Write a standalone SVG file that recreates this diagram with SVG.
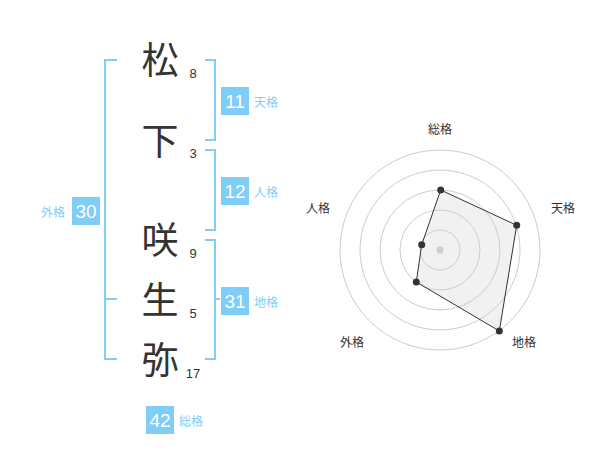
<svg xmlns="http://www.w3.org/2000/svg" width="600" height="470" viewBox="0 0 600 470">
<style>
.br{fill:none;stroke:#80cdf8;stroke-width:2}
.box{fill:#80cdf8}
.bn{font-family:"Liberation Sans",Arial,sans-serif;font-size:19px;fill:#fff;text-anchor:middle}
.lb{font-family:"Noto Sans CJK JP",sans-serif;font-size:12px;fill:#80cdf8}
.ch{font-family:"Noto Sans CJK JP",sans-serif;font-size:37px;fill:#333;text-anchor:middle}
.sn{font-family:"Liberation Sans",Arial,sans-serif;font-size:13px;fill:#333;text-anchor:middle}
.ring{fill:none;stroke:#ccc;stroke-width:1}
.rl{font-family:"Noto Sans CJK JP",sans-serif;font-size:12px;fill:#333;text-anchor:middle}
.pt{fill:#333}
</style>
<rect width="600" height="470" fill="#fff"/>
<g id="connectors">
<path class="br" d="M117,60 H105 V359 H117 M105,299 H117"/>
<path class="br" d="M205,60 H215 V140 H205"/>
<path class="br" d="M205,150 H215 V230 H205"/>
<path class="br" d="M205,240 H215 V359 H205 M215,299 H220"/>
</g>
<g id="chars">
<text class="ch" x="160" y="74">松</text>
<text class="sn" x="193" y="78">8</text>
<text class="ch" x="160" y="155">下</text>
<text class="sn" x="193" y="158">3</text>
<text class="ch" x="160" y="254">咲</text>
<text class="sn" x="193" y="258">9</text>
<text class="ch" x="160" y="314">生</text>
<text class="sn" x="193" y="318">5</text>
<text class="ch" x="160" y="374">弥</text>
<text class="sn" x="193" y="378">17</text>
</g>
<g id="tenkaku">
<rect class="box" x="221" y="87" width="28" height="28"/>
<text class="bn" x="235" y="108">11</text>
<text class="lb" x="254" y="107">天格</text>
</g>
<g id="jinkaku">
<rect class="box" x="221" y="177" width="28" height="28"/>
<text class="bn" x="235" y="198">12</text>
<text class="lb" x="254" y="197">人格</text>
</g>
<g id="gaikaku">
<rect class="box" x="72" y="197" width="28" height="28"/>
<text class="bn" x="86" y="218">30</text>
<text class="lb" x="41" y="217">外格</text>
</g>
<g id="chikaku">
<rect class="box" x="221" y="287" width="28" height="28"/>
<text class="bn" x="235" y="308">31</text>
<text class="lb" x="254" y="307">地格</text>
</g>
<g id="soukaku">
<rect class="box" x="146" y="406" width="28" height="28"/>
<text class="bn" x="160" y="427">42</text>
<text class="lb" x="179" y="426">総格</text>
</g>
<g id="radar">
<circle class="ring" cx="440" cy="250" r="20"/>
<circle class="ring" cx="440" cy="250" r="40"/>
<circle class="ring" cx="440" cy="250" r="60"/>
<circle class="ring" cx="440" cy="250" r="80"/>
<circle class="ring" cx="440" cy="250" r="100"/>
<circle cx="440" cy="250" r="3.5" fill="#ccc"/>
<polygon points="440.7,190 516.7,225.3 499.3,331 416.3,282 421.7,244.7" fill="rgba(210,210,210,0.3)" stroke="#333" stroke-width="1"/>
<circle class="pt" cx="440.7" cy="190" r="3.5"/>
<circle class="pt" cx="516.7" cy="225.3" r="3.5"/>
<circle class="pt" cx="499.3" cy="331" r="3.5"/>
<circle class="pt" cx="416.3" cy="282" r="3.5"/>
<circle class="pt" cx="421.7" cy="244.7" r="3.5"/>
<text class="rl" x="440" y="134">総格</text>
<text class="rl" x="563" y="213">天格</text>
<text class="rl" x="524" y="347">地格</text>
<text class="rl" x="352" y="347">外格</text>
<text class="rl" x="318" y="213">人格</text>
</g>
</svg>
